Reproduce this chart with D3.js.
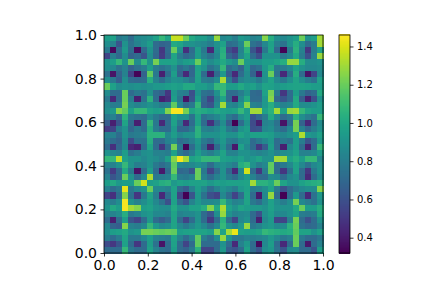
<!DOCTYPE html>
<html>
<head>
<meta charset="utf-8">
<script src="https://cdn.jsdelivr.net/npm/d3@7"></script>
<style>
  html, body { margin: 0; padding: 0; background: #fff; }
  svg { display: block; font-family: "DejaVu Sans", sans-serif; }
</style>
</head>
<body>
<script>
// valores, fila 0 = arriba
const values = [
  [.95,.97,.78,.82,.72,.85,.87,.9,.97,1.08,.98,1.36,1.36,1.2,1.01,.95,.95,.88,1.28,.85,.88,.8,.93,.9,.82,.85,1.25,1.03,.88,.85,.9,.95,1.2,.9,.95,1.3],
  [.88,.82,.62,.9,.75,.82,.88,.95,.72,.68,.7,1.01,.98,.9,.9,.87,.85,.8,.9,.97,.72,.75,.85,1.2,.75,.7,.85,.97,.8,.75,.9,1.03,.88,.72,.8,1.3],
  [.78,.35,.72,.93,.72,.36,.7,.9,.72,.5,.72,1.2,.9,.48,.72,.95,.78,.45,.88,1.03,.6,.52,.82,1.05,.62,.48,.78,.98,.7,.33,.78,1.05,.82,.5,.8,.98],
  [.55,.8,.7,.87,.68,.72,.62,.87,.7,.52,.7,.98,.8,.7,.75,.95,.82,.75,.85,1.05,.7,.62,.85,.98,.72,.6,.9,.9,.9,.78,.85,1.01,.8,.6,.82,1.28],
  [.9,.95,1.08,.9,1.2,.87,1.08,.9,1.22,.97,.97,.98,.9,.95,.97,1.2,.95,.87,.93,1.01,.93,.87,1.2,.93,.9,.9,.95,.95,.98,1.03,1.28,1.28,1.03,.87,.87,.9],
  [.88,.85,.75,.82,.68,.75,.8,.95,.8,.75,.8,.9,.72,.78,.7,.97,.9,.75,.82,1.08,.72,.78,.68,.9,.7,.75,.93,1.03,.78,.8,.85,.98,.9,.85,.85,.87],
  [.75,.38,.68,.82,.55,.33,.68,1.18,.78,.42,.72,.95,.68,.45,.7,.98,.72,.42,.72,.93,.65,.45,.72,.87,.68,.42,.9,1.2,.75,.45,.75,1.03,.72,.38,.55,.85],
  [.88,.78,.65,.88,.72,.7,.72,1.03,.82,.72,.82,.9,.88,.82,.75,.97,.8,.78,.87,1.32,.78,.6,.82,.87,.85,.78,.9,.98,.85,.78,.88,.98,.88,.8,.75,.97],
  [1.2,.97,.87,.9,.88,.9,.88,.9,.93,.93,.95,.97,.95,1.01,1.01,.95,.95,.9,1.08,1.08,.95,.95,1.01,.95,.97,.9,.98,.97,.93,.95,.97,.98,.98,.97,.95,.95],
  [.87,.72,.72,1.2,.72,.78,.75,.9,.72,.68,.5,.93,.82,.8,.6,.9,.75,.72,.9,1.08,.72,.72,.8,.9,.72,.7,.97,1.22,.78,.5,.72,.95,.78,.68,.72,1.01],
  [.78,.45,.72,1.2,.8,.42,.75,1.05,.72,.42,.48,.95,.78,.38,.62,.95,.7,.55,.82,.98,.72,.42,.85,1.01,.72,.72,.93,1.25,.7,.62,.72,1.01,.65,.42,.6,.9],
  [.85,.8,.8,1.22,.87,.82,.85,.9,.85,.8,.82,1.18,.85,.72,.78,1.08,.68,.62,.87,1.3,.85,.82,.93,1.25,.82,.8,.93,1.03,.88,.82,.85,1.01,.87,.87,.9,.95],
  [.88,.93,1.25,1.18,.97,1.08,1.08,.98,.95,.97,1.25,1.45,1.45,1.22,.98,1.03,1.01,.97,1.01,.97,.95,.97,1.08,.95,1.3,1.3,.97,1.05,1.3,.97,1.28,1.3,1.08,.98,.95,.95],
  [.78,.82,.72,1.05,.78,.75,.72,.87,.78,.72,.72,.97,.9,.9,.75,.98,.75,.8,.85,.93,.78,.72,.88,.95,.62,.7,.8,1.01,.85,.72,.78,1.05,.88,.8,.75,1.08],
  [.65,.42,.62,.98,.72,.42,.72,1.08,.78,.45,.72,.97,.78,.45,.72,.97,.72,.48,.72,.87,.65,.32,.72,.9,.58,.42,.82,.85,.75,.38,.72,1.22,.68,.45,.72,.87],
  [.52,.55,.8,.9,.7,.78,.72,1.03,.8,.72,.72,.93,.7,.7,.78,1.05,.82,.8,.85,.93,.78,.72,.9,.95,.6,.62,.85,.88,.78,.72,.85,1.22,.82,.7,.8,.9],
  [.82,.82,.72,.9,.78,.8,.82,1.05,1.05,1.05,.85,.95,.85,.9,.9,1.05,.9,.9,.9,.95,.9,.9,.98,.93,.97,.97,.97,.95,.87,.85,.9,.95,1.32,.93,.9,.97],
  [.78,.72,.68,.87,.58,.75,.75,1.03,.72,.72,.82,.87,.72,.75,.82,.93,.78,.72,.85,.93,.8,.78,.88,.9,.72,.78,.85,.93,.72,.78,.75,.95,.8,.62,.72,.93],
  [.72,.48,.7,.85,.45,.42,.72,.98,.72,.5,.72,1.22,.78,.33,.72,.9,.72,.42,.72,.9,.72,.4,.97,.85,.72,.5,.65,.95,.72,.42,.85,.95,.72,.42,.72,1.08],
  [.9,.85,.82,.95,.75,.8,.88,.9,.82,.82,.8,.97,.78,.72,.8,.95,.85,.8,.88,.98,.82,.82,.9,.9,.85,.82,.85,.9,.82,.88,.9,.97,.82,.82,.85,.95],
  [1.08,1.08,1.35,.97,.9,.9,.85,.9,.87,.82,.95,1.25,1.45,1.3,.97,1.01,1.08,1.08,1.08,.97,.95,.93,.97,.9,.93,.98,.9,.9,1.3,1.3,.97,1.03,.95,1.08,1.08,.85],
  [.82,.82,.9,1.08,.9,.8,.82,.9,.78,.72,.78,1.18,.85,.82,.85,.9,.85,.72,.85,.9,.85,.8,1.03,1.08,.9,.8,.85,1.18,.72,.78,.85,.97,.85,.75,.85,.9],
  [.75,.52,.7,1.01,.78,.38,.72,.95,.72,.4,.72,1.2,.7,.72,.62,1.2,.78,.55,.72,.9,.7,.45,.85,1.38,.72,.5,.8,1.18,.72,.5,.75,.97,.72,.5,.78,.9],
  [.82,.62,.7,1.2,.9,.72,.85,1.32,.78,.8,.82,1.08,.8,.78,.82,1.2,.82,.72,.82,.9,.78,.72,.85,.93,.82,.72,.72,.87,.85,.72,.85,.9,.72,.45,.72,.87],
  [.95,1.01,.93,.95,.95,1.2,1.38,.95,.97,1.03,1.05,.93,.97,.95,.97,.97,.98,.93,.97,.95,.97,.97,.97,.98,1.3,1.05,1.05,1.01,1.2,.98,.9,.9,.97,1.01,1.03,1.05],
  [.82,.72,.78,1.42,.78,.85,.9,1.2,.85,.85,.82,.97,.72,.65,.82,.95,.85,.72,.82,.9,.85,.8,.93,.97,.8,.82,.88,.98,.78,.6,.72,.8,.85,.88,.87,1.25],
  [.55,.48,.72,1.25,.75,.5,.78,.98,.8,.45,.72,.97,.55,.32,.62,.93,.75,.6,.55,.85,.72,.55,.72,.98,.72,.4,.85,1.28,.72,.32,.72,.93,.72,.45,.75,.93],
  [.85,.8,.88,1.45,.9,.82,.88,.95,.85,.75,.6,.97,.72,.62,.82,.93,.85,.85,.87,1.08,.9,.82,.85,.98,.78,.72,.85,.97,.87,.8,.88,1.22,.85,.8,.75,.9],
  [.9,1.01,.95,1.45,1.3,1.25,.95,.97,.9,.87,.87,1.01,.9,.9,.97,.97,1.03,1.25,1.01,1.32,.97,.9,.98,.95,.93,.93,.9,.97,.9,.9,.9,1.01,1.2,.95,.95,1.03],
  [.82,.82,.87,1.03,.78,.82,.9,.93,.85,.85,.82,.98,.82,.85,.85,.9,.72,.62,.88,1.28,.9,.82,.85,.87,.72,.6,.88,.95,.85,.85,.9,.98,.8,.78,.8,1.01],
  [.72,.42,.72,.95,.62,.55,.72,.93,.72,.65,.72,.98,.72,.55,.72,.9,.72,.5,.72,1.05,.72,.55,.85,.9,.72,.42,.85,.93,.55,.55,.82,1.22,.72,.6,.72,.9],
  [.85,.68,.65,1.25,.82,.8,.85,1.08,.93,.85,.88,.98,.85,.78,.85,.93,.85,.75,.85,1.08,.9,.85,.93,1.28,.78,.82,.9,.93,.85,.87,1.05,1.2,.75,.7,.72,.82],
  [.87,.95,.97,1.01,.9,.93,1.22,1.22,1.2,1.18,1.2,1.18,.95,.97,.98,.98,.98,.95,1.25,.97,1.3,1.42,.97,.95,.95,.98,1.08,1.05,1.03,1.01,1.03,1.18,.98,.98,.9,.97],
  [.8,.72,.8,.98,.78,.78,.85,.95,.82,.8,.78,.98,.82,.72,.82,1.18,.8,.72,.88,1.28,.9,.78,.78,.82,.8,.82,.85,.93,.85,.78,.82,1.2,.78,.72,.72,.78],
  [.58,.5,.62,.97,.72,.5,.72,.95,.75,.38,.72,.97,.72,.55,.72,1.18,.72,.72,.72,.9,.72,.45,.82,.93,.72,.35,.85,.95,.72,.45,.72,1.2,.72,.4,.72,.82],
  [.72,.72,.72,1.08,.78,.72,.72,.97,.82,.75,.72,.95,.72,.68,.78,1.05,.55,.55,.72,.93,.65,.62,.72,.97,.72,.62,.88,.93,.75,.62,.85,.87,.72,.72,.62,.95]
]
const axisTicks = [0, 0.2, 0.4, 0.6, 0.8, 1.0]
const colorTicks = [0.4, 0.6, 0.8, 1.0, 1.2, 1.4]
const vmin = 0.32
const vmax = 1.46

const ancho = 432, alto = 288
const x0 = 104, x1 = 323, y0 = 35, y1 = 253
const barLeft = 339, barRight = 350

let svg = d3.select("body").append("svg")
    .attr("width", ancho)
    .attr("height", alto)

let escalaColor = d3.scaleSequential(d3.interpolateViridis).domain([vmin, vmax])

let cols = d3.scaleBand().domain(d3.range(values[0].length)).range([x0, x1])
let rows = d3.scaleBand().domain(d3.range(values.length)).range([y0, y1])
let x = d3.scaleLinear().domain([0, 1]).range([x0, x1])
let y = d3.scaleLinear().domain([0, 1]).range([y1, y0])

// celdas del mapa de calor
svg.append("g")
    .attr("shape-rendering", "crispEdges")
    .selectAll("g")
    .data(values)
    .join("g")
    .selectAll("rect")
    .data((fila, i) => fila.map((v, j) => ({ v: v, i: i, j: j })))
    .join("rect")
    .attr("x", d => cols(d.j))
    .attr("y", d => rows(d.i))
    .attr("width", cols.bandwidth() + 0.5)
    .attr("height", rows.bandwidth() + 0.5)
    .attr("fill", d => escalaColor(d.v))

// ejes
function estiloEje(g, size) {
    g.select(".domain").remove()
    g.selectAll("line").attr("stroke", "#000").attr("stroke-width", 0.8)
    g.selectAll("text").attr("font-size", size).attr("fill", "#000").attr("font-family", "DejaVu Sans")
}

svg.append("g")
    .attr("transform", `translate(0,${y1})`)
    .call(d3.axisBottom(x).tickValues(axisTicks).tickFormat(d3.format(".1f")).tickSize(3.5).tickPadding(3.5))
    .call(estiloEje, 14)

svg.append("g")
    .attr("transform", `translate(${x0},0)`)
    .call(d3.axisLeft(y).tickValues(axisTicks).tickFormat(d3.format(".1f")).tickSize(3.5).tickPadding(3.5))
    .call(estiloEje, 14)

svg.append("rect")
    .attr("x", x0).attr("y", y0)
    .attr("width", x1 - x0).attr("height", y1 - y0)
    .attr("fill", "none").attr("stroke", "#000").attr("stroke-width", 0.8)

// barra de color
let barra = d3.scaleLinear().domain([vmin, vmax]).range([y1, y0])
let niveles = d3.range(256).map(i => vmin + (vmax - vmin) * i / 255)

svg.append("g")
    .attr("shape-rendering", "crispEdges")
    .selectAll("rect")
    .data(niveles)
    .join("rect")
    .attr("x", barLeft)
    .attr("y", d => barra(d) - 1)
    .attr("width", barRight - barLeft)
    .attr("height", 1.5)
    .attr("fill", d => escalaColor(d))

svg.append("rect")
    .attr("x", barLeft).attr("y", y0)
    .attr("width", barRight - barLeft).attr("height", y1 - y0)
    .attr("fill", "none").attr("stroke", "#000").attr("stroke-width", 0.8)

svg.append("g")
    .attr("transform", `translate(${barRight},0)`)
    .call(d3.axisRight(barra).tickValues(colorTicks).tickFormat(d3.format(".1f")).tickSize(3.5).tickPadding(3.5))
    .call(estiloEje, 10)
</script>
</body>
</html>
